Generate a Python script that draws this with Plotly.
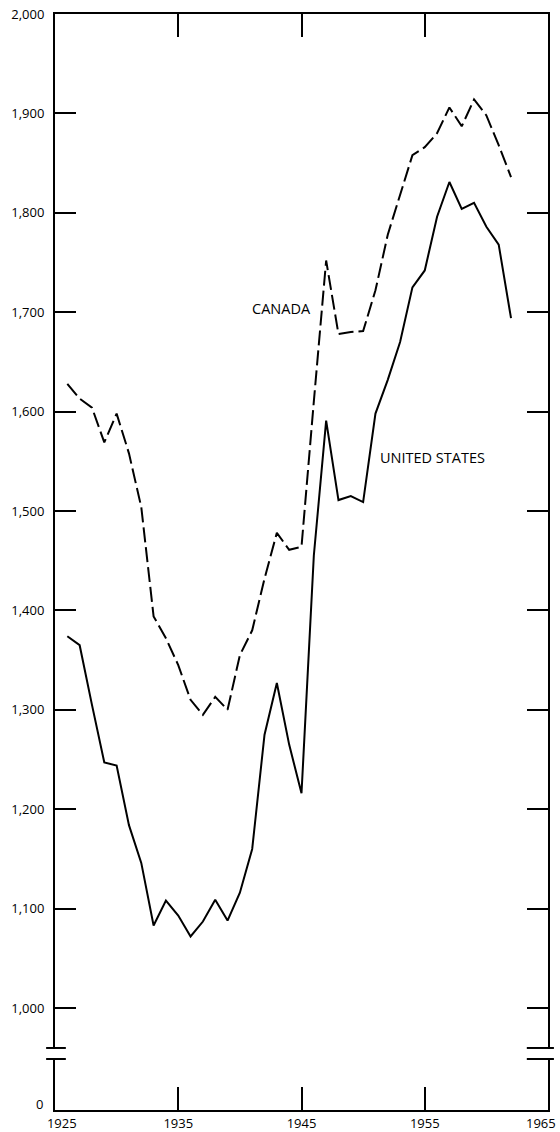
import plotly.graph_objects as go

years = list(range(1926, 1963))

canada = [1628, 1613, 1604, 1569, 1598, 1558, 1504, 1394, 1372, 1345,
          1310, 1295, 1313, 1300, 1355, 1380, 1432, 1478, 1461, 1464,
          1610, 1752, 1678, 1680, 1681, 1722, 1778, 1818, 1858, 1866,
          1880, 1906, 1887, 1914, 1898, 1868, 1836]

united_states = [1374, 1365, 1305, 1247, 1244, 1184, 1146, 1083, 1108, 1093,
                 1072, 1087, 1109, 1088, 1116, 1160, 1275, 1327, 1265, 1216,
                 1455, 1591, 1511, 1515, 1509, 1598, 1632, 1670, 1725, 1742,
                 1796, 1831, 1804, 1810, 1786, 1768, 1694]

x_ticks = [1925, 1935, 1945, 1955, 1965]
x_tick_text = ["\u00a0\u00a0\u00a0\u00a01925", "1935", "1945", "1955", ""]
x_last_label = "1965"

y_ticks = list(range(1000, 2001, 100))
y_tick_text = [f"{v:,}" for v in y_ticks]

Y_BOTTOM = 897.4  # broken axis: the bottom line stands for 0
FONT = "Open Sans"

fig = go.Figure()
fig.add_trace(go.Scatter(x=years, y=canada, mode="lines", name="Canada",
                         line=dict(color="black", width=2, dash="15px,5px")))
fig.add_trace(go.Scatter(x=years, y=united_states, mode="lines", name="United States",
                         line=dict(color="black", width=2)))

fig.add_annotation(x=1943.4, y=1704, text="CANADA", showarrow=False,
                   font=dict(family=FONT, size=14.5, color="black"))
fig.add_annotation(x=1955.66, y=1554, text="UNITED STATES", showarrow=False,
                   font=dict(family=FONT, size=14.5, color="black"))
# the "0" label of the broken axis
fig.add_annotation(xref="paper", x=0, y=Y_BOTTOM, yshift=6, text="0", showarrow=False,
                   xanchor="right", xshift=-10, font=dict(family=FONT, size=13, color="black"))
# last year label, kept inside the page edge
fig.add_annotation(xref="x", yref="paper", x=x_ticks[-1], y=0, text=x_last_label,
                   showarrow=False, xanchor="right", yanchor="top", xshift=10, yshift=-2,
                   font=dict(family=FONT, size=13, color="black"))

# axis break: white gap over the vertical axis lines plus short break marks
brk_lo, brk_hi = 948.7, 959.8
for x0, x1 in [(-0.012, 0.012), (0.988, 1.012)]:
    fig.add_shape(type="rect", xref="paper", yref="y", x0=x0, x1=x1,
                  y0=brk_lo + 1, y1=brk_hi - 1, fillcolor="white",
                  line=dict(width=0), layer="above")
for yv in (brk_lo, brk_hi):
    fig.add_shape(type="line", xref="paper", yref="y", x0=-0.018, x1=0.022,
                  y0=yv, y1=yv, line=dict(color="black", width=2), layer="above")
    fig.add_shape(type="line", xref="paper", yref="y", x0=0.957, x1=1.012,
                  y0=yv, y1=yv, line=dict(color="black", width=2), layer="above")

fig.update_layout(
    width=560, height=1132,
    margin=dict(l=55, r=12, t=14, b=22, autoexpand=False),
    paper_bgcolor="white", plot_bgcolor="white",
    showlegend=False,
    font=dict(family=FONT, size=13, color="black"),
)
fig.update_xaxes(
    range=[1925, 1965], tickmode="array", tickvals=x_ticks, ticktext=x_tick_text,
    showgrid=False, zeroline=False, showline=True, linecolor="black", linewidth=2,
    mirror="allticks", ticks="inside", ticklen=23, tickwidth=2, tickcolor="black",
    tickfont=dict(family=FONT, size=13, color="black"), automargin=False,
    ticklabelstandoff=0, ticklabeloverflow="allow",
)
fig.update_yaxes(
    range=[Y_BOTTOM, 2000], tickmode="array", tickvals=y_ticks, ticktext=y_tick_text,
    showgrid=False, zeroline=False, showline=True, linecolor="black", linewidth=2,
    mirror="allticks", ticks="inside", ticklen=21, tickwidth=2, tickcolor="black",
    tickfont=dict(family=FONT, size=13, color="black"), ticklabelstandoff=6,
    automargin=False, ticklabeloverflow="allow",
)

fig.write_html("out.html",
               config={"displayModeBar": False},
               post_script="document.body.style.margin='0';document.body.style.overflow='hidden';")
